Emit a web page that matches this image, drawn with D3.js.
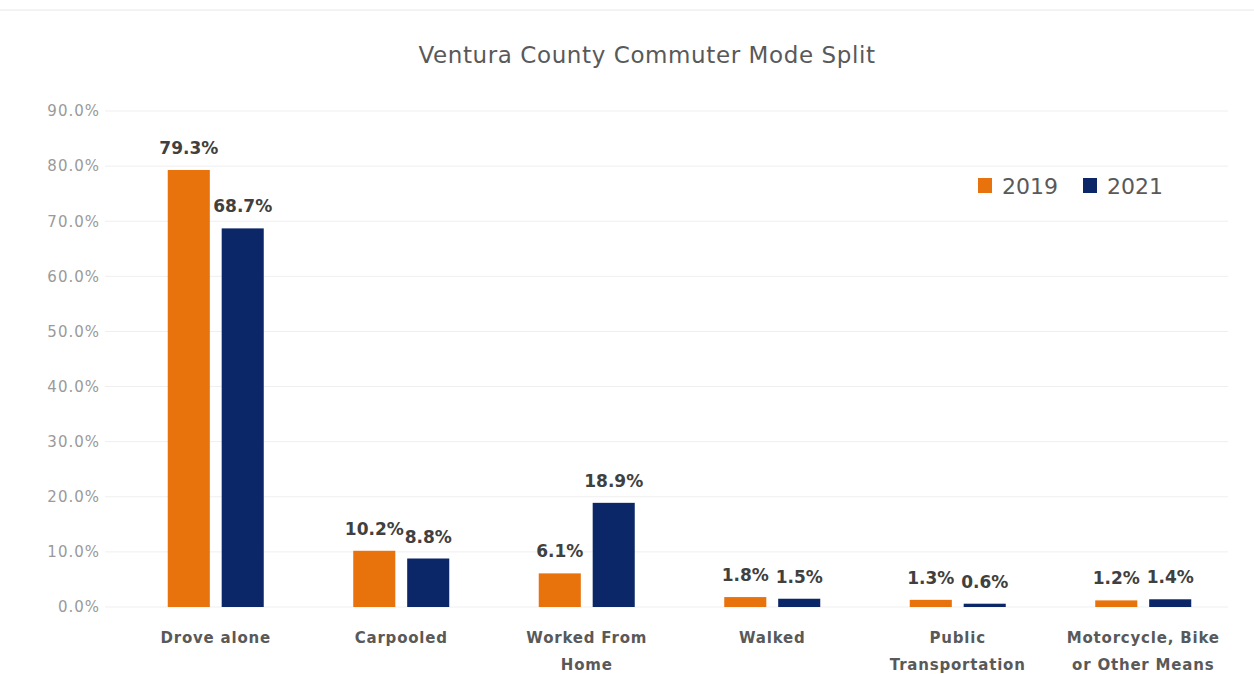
<!DOCTYPE html>
<html><head><meta charset="utf-8">
<script src="https://cdn.jsdelivr.net/npm/d3@7"></script>
<style>body{margin:0;background:#fff;}svg{display:block;font-family:"DejaVu Sans",sans-serif;}</style>
</head><body>
<svg id="c" width="1254" height="674"></svg>
<script>
const categories = [["Drove alone"],["Carpooled"],["Worked From","Home"],["Walked"],["Public","Transportation"],["Motorcycle, Bike","or Other Means"]];
const seriesNames = ["2019","2021"];
const values2019 = [79.3,10.2,6.1,1.8,1.3,1.2];
const values2021 = [68.7,8.8,18.9,1.5,0.6,1.4];
const yTicks = [0,10,20,30,40,50,60,70,80,90];
const colors = ["#E8720C","#0C2768"];

const svg = d3.select("#c");
const m = {left:123,right:1236,top:111,bottom:607};
svg.append("line").attr("x1",0).attr("x2",1254).attr("y1",10).attr("y2",10).attr("stroke","#e6e6e6");

const x0 = d3.scaleBand().domain(d3.range(categories.length)).range([m.left,m.right]);
const x1 = d3.scaleBand().domain([0,1]).range([0,96]).paddingInner(0.22);
const y = d3.scaleLinear().domain([0,90]).range([m.bottom,m.top]);

svg.append("g").selectAll("line").data(yTicks).join("line")
  .attr("x1",105).attr("x2",1228).attr("y1",d=>y(d)).attr("y2",d=>y(d))
  .attr("stroke","#efefef").attr("stroke-width",1);

const yAxis = d3.axisLeft(y).tickValues(yTicks).tickFormat(d=>d.toFixed(1)+"%").tickSize(0).tickPadding(0);
const ga = svg.append("g").attr("transform","translate(100,0)").call(yAxis);
ga.select(".domain").remove();
ga.selectAll("text").attr("fill","#9a9a9a").style("font-size","15px").style("letter-spacing","1px").style("font-family","'DejaVu Sans',sans-serif");

const data = categories.map((c,i)=>({c,i,v:[values2019[i],values2021[i]]}));
const g = svg.append("g").selectAll("g").data(data).join("g")
  .attr("transform",d=>`translate(${x0(d.i)+x0.bandwidth()/2-48},0)`);
g.selectAll("rect").data(d=>d.v.map((v,k)=>({v,k}))).join("rect")
  .attr("x",d=>x1(d.k)).attr("width",x1.bandwidth())
  .attr("y",d=>y(d.v)).attr("height",d=>y(0)-y(d.v))
  .attr("fill",d=>colors[d.k]);
g.selectAll("text.v").data(d=>d.v.map((v,k)=>({v,k}))).join("text").attr("class","v")
  .attr("x",d=>x1(d.k)+x1.bandwidth()/2).attr("y",d=>y(d.v)-16)
  .attr("text-anchor","middle").attr("fill","#404040")
  .style("font-size","17px").style("font-weight","bold")
  .text(d=>d.v.toFixed(1)+"%");

const gl = svg.append("g").selectAll("text").data(data).join("text")
  .attr("x",d=>x0(d.i)+x0.bandwidth()/2).attr("y",643)
  .attr("text-anchor","middle").attr("fill","#595959")
  .style("font-size","15px").style("font-weight","bold").style("letter-spacing","0.8px");
gl.selectAll("tspan").data(d=>d.c).join("tspan")
  .attr("x",function(){return this.parentNode.getAttribute("x");})
  .attr("dy",(d,i)=>i===0?0:27).text(d=>d);

svg.append("text").attr("x",647).attr("y",63).attr("text-anchor","middle")
  .attr("fill","#595959").style("font-size","23px").style("letter-spacing","0.6px").text("Ventura County Commuter Mode Split");

const lg = svg.append("g").attr("transform","translate(978,194)");
const li = lg.selectAll("g").data(seriesNames).join("g").attr("transform",(d,i)=>`translate(${i*105},0)`);
li.append("rect").attr("x",0).attr("y",-16).attr("width",14).attr("height",15).attr("fill",(d,i)=>colors[i]);
li.append("text").attr("x",24).attr("y",0).attr("fill","#595959").style("font-size","22px").text(d=>d);
</script>
</body></html>
